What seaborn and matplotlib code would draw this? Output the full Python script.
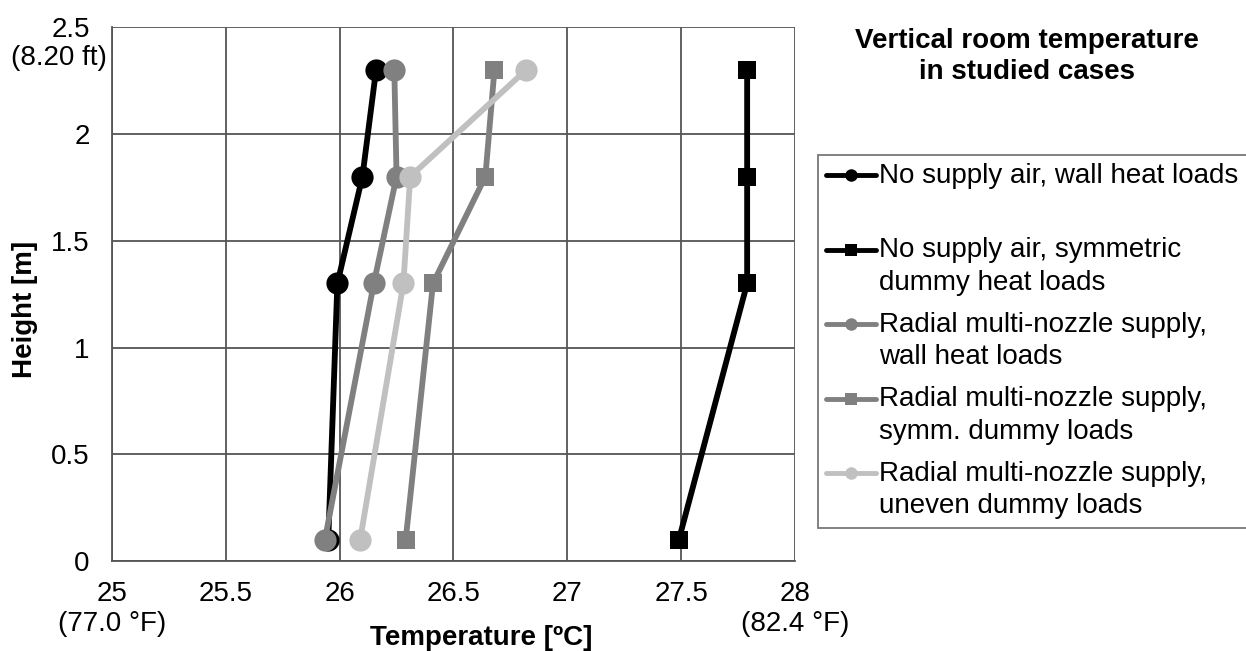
import matplotlib
matplotlib.use("Agg")
import matplotlib.pyplot as plt
from matplotlib.lines import Line2D
from matplotlib.legend_handler import HandlerLine2D
import seaborn as sns
import pandas as pd
import numpy as np

heights = [2.3, 1.8, 1.3, 0.1]
no_supply_wall = [26.16, 26.10, 25.99, 25.95]
no_supply_symm = [27.79, 27.79, 27.79, 27.49]
radial_wall = [26.24, 26.25, 26.15, 25.935]
radial_symm = [26.68, 26.64, 26.41, 26.29]
radial_uneven = [26.82, 26.31, 26.28, 26.09]

labels = [
    "No supply air, wall heat loads\n ",
    "No supply air, symmetric\ndummy heat loads",
    "Radial multi-nozzle supply,\nwall heat loads",
    "Radial multi-nozzle supply,\nsymm. dummy loads",
    "Radial multi-nozzle supply,\nuneven dummy loads",
]
series = [no_supply_wall, no_supply_symm, radial_wall, radial_symm, radial_uneven]
colors = ["#000000", "#000000", "#808080", "#808080", "#c0c0c0"]
markers = ["o", "s", "o", "s", "o"]

xticks = [25, 25.5, 26, 26.5, 27, 27.5, 28]
xticklabels = ["25\n(77.0 °F)", "25.5", "26", "26.5", "27", "27.5", "28\n(82.4 °F)"]
yticks = [0, 0.5, 1, 1.5, 2, 2.5]
yticklabels = ["0", "0.5", "1", "1.5", "2", "2.5"]

sns.set_style("white")
plt.rcParams["font.family"] = ["Liberation Sans", "DejaVu Sans"]
plt.rcParams["text.color"] = "black"
plt.rcParams["xtick.labelcolor"] = "black"
plt.rcParams["ytick.labelcolor"] = "black"
plt.rcParams["axes.labelcolor"] = "black"

fig = plt.figure(figsize=(12.46, 6.51), dpi=100)
ax = fig.add_axes([0.0899, 0.138, 0.638 - 0.0899, 0.9585 - 0.138])

for i in range(len(series)):
    df = pd.DataFrame({"T": series[i], "H": heights})
    ms = 16 if markers[i] == "o" else 13
    sns.lineplot(data=df, x="T", y="H", sort=False, estimator=None,
                 color=colors[i], marker=markers[i], markersize=ms,
                 markeredgewidth=0, linewidth=4.2, ax=ax, label=labels[i],
                 zorder=3 + i)

ax.set_xlim(25, 28)
ax.set_ylim(0, 2.5)
ax.set_xticks(xticks)
ax.set_xticklabels(xticklabels, fontsize=20, color="black")
ax.set_yticks(yticks)
ax.set_yticklabels(yticklabels, fontsize=20, color="black")
ax.grid(True, color="#555555", linewidth=1.3)
ax.set_axisbelow(True)
for s in ["left", "bottom"]:
    ax.spines[s].set_color("#555555")
    ax.spines[s].set_linewidth(1.3)
for s in ["top", "right"]:
    ax.spines[s].set_visible(False)
ax.tick_params(axis="y", direction="out", length=5, width=1.3, color="#555555", pad=11)
ax.tick_params(axis="x", direction="out", length=5, width=1.3, color="#555555", pad=9)

ax.annotate("(8.20 ft)", xy=(0, 2.5), xycoords=("axes fraction", "data"),
            xytext=(-4, -22), textcoords="offset points", ha="right", va="center",
            fontsize=20, color="black")

ax.set_xlabel("")
ax.set_ylabel("")
fig.text(0.386, 0.02, "Temperature [ºC]", ha="center", va="center",
         fontsize=20, fontweight="bold", color="black")
fig.text(0.02, 0.524, "Height [m]", ha="center", va="center", rotation=90,
         fontsize=20, fontweight="bold", color="black")


class UpHandler(HandlerLine2D):
    def create_artists(self, legend, orig_handle, xdescent, ydescent, width,
                       height, fontsize, trans):
        arts = super().create_artists(legend, orig_handle, xdescent, ydescent,
                                      width, height, fontsize, trans)
        for a in arts:
            a.set_ydata(np.asarray(a.get_ydata()) + 0.62 * fontsize)
        return arts


h, l = ax.get_legend_handles_labels()
hl = dict(zip(l, h))
leg = ax.legend([hl[lab] for lab in labels], labels, loc="upper left",
                bbox_to_anchor=(0.6565, 0.7625), bbox_transform=fig.transFigure,
                fontsize=20, frameon=True, fancybox=False, handlelength=1.8,
                handletextpad=0.1, borderpad=0.3, labelspacing=0.58,
                borderaxespad=0, handler_map={Line2D: UpHandler()})
leg.get_frame().set_edgecolor("#555555")
leg.get_frame().set_linewidth(1.3)
for t in leg.get_texts():
    t.set_linespacing(1.32)
    t.set_color("black")
for lh in leg.legend_handles:
    lh.set_markersize(9)
    lh.set_linewidth(3.5)

fig.text(0.824, 0.913, "Vertical room temperature\nin studied cases", ha="center",
         va="center", fontsize=20, fontweight="bold", linespacing=1.22,
         color="black")

fig.savefig("out.png", dpi=100)
